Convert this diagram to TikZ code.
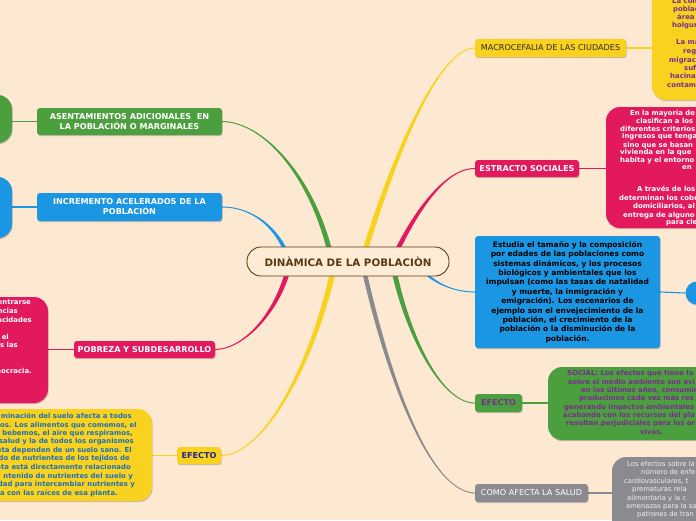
\documentclass[tikz,border=0pt]{standalone}
\usepackage{fontspec}
\setmainfont{DejaVu Sans}
\usetikzlibrary{calc,shadows,backgrounds}
\definecolor{bg}{HTML}{FDE9D2}
\definecolor{cyel}{HTML}{F9D21F}
\definecolor{cpink}{HTML}{E2195D}
\definecolor{cblue}{HTML}{1B96E2}
\definecolor{cgreen}{HTML}{4C9F3F}
\definecolor{cgray}{HTML}{8B8B8F}
\definecolor{cbrown}{HTML}{5B3A12}
\definecolor{cpurp}{HTML}{7A2C8E}
\definecolor{cnavy}{HTML}{20208C}
\definecolor{csteel}{HTML}{1F6FB8}
\definecolor{cpale}{HTML}{FEECD7}
\definecolor{cdark}{HTML}{2E2A1E}
\definecolor{clight}{HTML}{F0F0F0}
\newcommand\taperlink[7]{%
  \fill[#1] ($(#2)+(#6,0)$) .. controls ($(#3)+(#6,0)$) and ($(#4)+(0,#7)$) .. ($(#5)+(0,#7)$)
   -- ($(#5)-(0,#7)$) .. controls ($(#4)-(0,#7)$) and ($(#3)-(#6,0)$) .. ($(#2)-(#6,0)$) -- cycle;}
\begin{document}
\begin{tikzpicture}[x=1pt,y=-1pt,
  shad/.style={drop shadow={shadow xshift=0.6pt, shadow yshift=-1.2pt, opacity=0.3, fill=black!70}},
  lbl/.style={shad, rounded corners=3pt, inner sep=1pt, align=center, font=\fontsize{8.1}{10}\selectfont},
  lblb/.style={lbl, font=\fontsize{8.1}{10}\selectfont\bfseries},
  side/.style={shad, rounded corners=14pt, inner sep=0pt},
  ln/.style={inner sep=0pt, text height=5pt, text depth=1.4pt, font=\fontsize{6.9}{7.5}\selectfont\bfseries},
  lnn/.style={ln, font=\fontsize{6.8}{7.5}\selectfont},
  link/.style={line width=1.1pt}
]
\useasboundingbox (0,0) rectangle (696,520);
\begin{pgfonlayer}{background}
\fill[bg] (0,0) rectangle (696,520);
\end{pgfonlayer}

% side boxes
\node[side, fill=cyel, minimum width=110pt, minimum height=140pt] (tryel) at (707,30) {};
\node[side, fill=cpink, minimum width=150pt, minimum height=121pt] (rpink) at (681,167.5) {};
\node[shad, circle, fill=cblue, minimum size=23pt, inner sep=0pt] (rblue) at (697,293) {};
\node[side, fill=cgreen, minimum width=200pt, minimum height=73pt] (rgreen) at (648,403.5) {};
\node[side, fill=cgray, minimum width=160pt, minimum height=120pt] (rgray) at (692,517) {};
\node[side, fill=cgreen, minimum width=100pt, minimum height=48pt] (lgreen) at (-38,119) {};
\node[side, fill=cblue, minimum width=100pt, minimum height=61pt] (lblue) at (-38,207.5) {};
\node[side, fill=cpink, minimum width=130pt, minimum height=106pt] (lpink) at (-17,350) {};
\node[side, fill=cyel, minimum width=200pt, minimum height=92pt] (lyel) at (52,455) {};

% label boxes
\node[lbl, fill=cyel, text=cdark, minimum width=151pt, minimum height=18pt] (macro) at (550.5,48) {MACROCEFALIA DE LAS CIUDADES};
\node[lblb, fill=cpink, text=white, minimum width=104pt, minimum height=17pt] (estr) at (527,168.5) {ESTRACTO SOCIALES};
\node[lblb, fill=cblue, text=black, minimum width=185pt, minimum height=112pt, font=\fontsize{7.5}{9.4}\selectfont\bfseries] (rbig) at (567.5,292) {Estudia el tamaño y la composición\\por edades de las poblaciones como\\sistemas dinámicos, y los procesos\\biológicos y ambientales que los\\impulsan (como las tasas de natalidad\\y muerte, la inmigración y\\emigración). Los escenarios de\\ejemplo son el envejecimiento de la\\población, el crecimiento de la\\población o la disminución de la\\población.};
\node[lblb, fill=cgreen, text=cpurp, minimum width=47pt, minimum height=18pt] (efr) at (498.5,403) {EFECTO};
\node[lbl, fill=cgray, text=white, minimum width=113pt, minimum height=18pt] (salud) at (531.5,493) {COMO AFECTA LA SALUD};
\node[lblb, fill=cgreen, text=white, minimum width=185pt, minimum height=27pt] (asent) at (129.5,121.5) {ASENTAMIENTOS ADICIONALES\ \ EN\\LA POBLACIÓN O MARGINALES};
\node[lblb, fill=cblue, text=white, minimum width=185pt, minimum height=28pt] (incr) at (129.5,207) {INCREMENTO ACELERADOS DE LA\\POBLACIÓN};
\node[lblb, fill=cpink, text=white, minimum width=141pt, minimum height=17pt] (pobr) at (144.5,349.5) {POBREZA Y SUBDESARROLLO};
\node[lblb, fill=cyel, text=cnavy, minimum width=44pt, minimum height=17pt] (efl) at (199,455.5) {EFECTO};

% root
\node[draw=cbrown, line width=0.9pt, fill=cpale, rounded corners=14pt, minimum width=202pt, minimum height=29pt, text=cbrown, font=\fontsize{10.3}{12}\selectfont\bfseries] (root) at (348,261.5) {DINÀMICA DE LA POBLACIÒN};

% texts in side boxes
\foreach \px/\py/\txt [count=\i] in {672/2/La con, 673/10/poblac, 677/18/área, 672/26/holgur, 676/43/La ma, 683/52/regi, 669/61/migracio, 684/69/suf, 670/77/hacinam, 667/86/contam}
  \node[ln, text=cpurp, anchor=west] (ty\i) at (\px,\py) {\txt};
\foreach \px/\py/\txt [count=\i] in {630/114/En la mayoría de, 636/122/clasifican a los, 620/130/diferentes criterios, 622/137/ingresos que tenga, 623/146/sino que se basan, 620/153/vivienda en la que, 620/161/habita y el entorno, 682/168/en, 637/190/A través de los, 619/199/determinan los cobr, {633/207/domiciliarios, al}, 623/216/entrega de alguno, 666/223/para cle}
  \node[ln, text=white, anchor=west] (tp\i) at (\px,\py) {\txt};
\foreach \px/\py/\txt [count=\i] in {567/374/SOCIAL: Los efectos que tiene la, 568/383/sobre el medio ambiente son evi, {581/391/en los últimos años, consumim}, 579/399/producimos cada vez más res, 564/408/generando impactos ambientales, 563/416/acabando con los recursos del pla, 566/424/resultan perjudiciales para los or, 640/433/vivos.}
  \node[ln, text=cpurp, anchor=west] (tg\i) at (\px,\py) {\txt};
\foreach \px/\py/\txt [count=\i] in {627/465/Los efectos sobre la, 641/473/número de enfe, {624/482/cardiovasculares, t}, 632/490/prematuras rela, 627/499/alimentaria y la c, 626/507/amenazas para la sa, 637/515/patrones de tran}
  \node[lnn, text=clight, anchor=west] (tq\i) at (\px,\py) {\txt};
\foreach \px/\py/\txt [count=\i] in {31/303/entrarse, 18/312/ncias, 32/321/acidades, 9/338/el, 18/346/s las, 32/372/mocracia.}
  \node[ln, text=white, anchor=east] (tl\i) at (\px,\py) {\txt};
\foreach \px/\py/\txt [count=\i] in {132/417/minación del suelo afecta a todos, {137/426/os. Los alimentos que comemos, el}, {133/434/bebemos, el aire que respiramos,}, 134/442/salud y la de todos los organismos, 132/451/eta dependen de un suelo sano. El, 130/459/do de nutrientes de los tejidos de, 131/468/nta está directamente relacionado, 133/477/ntenido de nutrientes del suelo y, 135/485/dad para intercambiar nutrientes y, 118/494/a con las raíces de esa planta.}
  \node[ln, text=csteel, anchor=east] (tw\i) at (\px,\py) {\txt};

% connectors
\begin{pgfonlayer}{background}
\draw[link, cyel] (macro.east) -- (macro.east -| tryel.west);
\draw[link, cpink] (estr.east) -- (estr.east -| rpink.west);
\draw[link, cblue] (rbig.east) -- (rblue.west);
\draw[link, cgreen] (efr.east) -- (efr.east -| rgreen.west);
\draw[link, cgray] (salud.east) -- (salud.east -| rgray.west);
\draw[link, cgreen] (asent.west) -- (asent.west -| lgreen.east);
\draw[link, cblue] (incr.west) -- (incr.west -| lblue.east);
\draw[link, cpink] (pobr.west) -- (pobr.west -| lpink.east);
\draw[link, cyel] (efl.west) -- (efl.west -| lyel.east);

\coordinate (s1) at (362,261); \coordinate (c1a) at (395,150); \coordinate (c1b) at (440,48);
\coordinate (s2) at (392,261); \coordinate (c2a) at (418,205); \coordinate (c2b) at (448,168);
\coordinate (s3) at (415,262); \coordinate (c3a) at (430,282); \coordinate (c3b) at (452,292);
\coordinate (s4) at (392,261); \coordinate (c4a) at (405,330); \coordinate (c4b) at (440,403);
\coordinate (s5) at (362,261); \coordinate (c5a) at (388,380); \coordinate (c5b) at (430,492);
\coordinate (s6) at (332,261); \coordinate (c6a) at (315,180); \coordinate (c6b) at (265,122);
\coordinate (s7) at (290,262); \coordinate (c7a) at (278,225); \coordinate (c7b) at (250,207);
\coordinate (s8) at (290,262); \coordinate (c8a) at (280,310); \coordinate (c8b) at (245,349);
\coordinate (s9) at (335,262); \coordinate (c9a) at (315,360); \coordinate (c9b) at (265,455);
\taperlink{cyel}{s1}{c1a}{c1b}{macro.west}{-2.8}{-0.5}
\taperlink{cpink}{s2}{c2a}{c2b}{estr.west}{-2.6}{-0.5}
\taperlink{cblue}{s3}{c3a}{c3b}{rbig.west}{-2.2}{0.5}
\taperlink{cgreen}{s4}{c4a}{c4b}{efr.west}{-2.6}{0.5}
\taperlink{cgray}{s5}{c5a}{c5b}{salud.west}{-2.3}{0.5}
\taperlink{cgreen}{s6}{c6a}{c6b}{asent.east}{2.6}{-0.5}
\taperlink{cblue}{s7}{c7a}{c7b}{incr.east}{2.2}{-0.5}
\taperlink{cpink}{s8}{c8a}{c8b}{pobr.east}{2.6}{0.5}
\taperlink{cyel}{s9}{c9a}{c9b}{efl.east}{2.8}{0.5}
\end{pgfonlayer}
\end{tikzpicture}
\end{document}
